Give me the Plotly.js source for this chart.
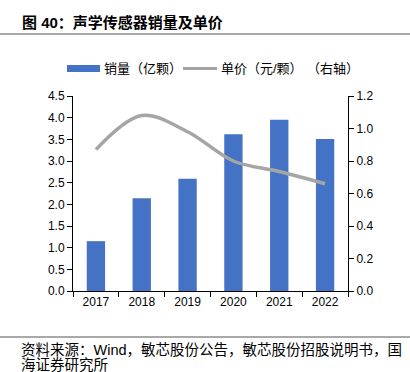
<!DOCTYPE html>
<html><head><meta charset="utf-8">
<script src="https://cdn.plot.ly/plotly-3.0.1.min.js"></script>
<style>body{margin:0;background:#fff}#c{width:410px;height:372px}</style>
</head><body><div id="c"></div>
<script>
const years = ['2017','2018','2019','2020','2021','2022'];
const sales = [1.15, 2.14, 2.59, 3.62, 3.95, 3.51];
const price = [0.87, 1.08, 0.98, 0.80, 0.735, 0.66];
const salesName = '销量（亿颗）';
const priceName = '单价（元/颗）';
const rightAxisNote = '（右轴）';
const titleText = '<b>图 40：声学传感器销量及单价</b>';
const sourceLine1 = '资料来源：Wind，敏芯股份公告，敏芯股份招股说明书，国';
const sourceLine2 = '海证券研究所';
const font = 'Liberation Sans, Arial, Noto Sans CJK SC, sans-serif';
const barColor = '#4472C4', lineColor = '#A5A5A5';

// pixel -> paper helpers (plot area: x 73..348, y 96..291)
const L = 73, W = 275, B = 291, H = 195;
const px = v => (v - L) / W;
const py = v => (B - v) / H;

const traces = [
  {type:'bar', x:years, y:sales, name:salesName, marker:{color:barColor}, width:0.4, yaxis:'y'},
  {type:'scatter', mode:'lines', x:years, y:price, name:priceName, yaxis:'y2',
   line:{color:lineColor, width:3.5, shape:'spline', smoothing:1}}
];
const layout = {
  width:410, height:372, margin:{l:73, r:62, t:96, b:81},
  paper_bgcolor:'#fff', plot_bgcolor:'#fff',
  font:{family:font, size:12, color:'#000'},
  showlegend:false,
  xaxis:{type:'category', showline:true, linecolor:'#000', linewidth:1, ticks:'outside', ticklen:5,
         tickson:'boundaries', tickcolor:'#000', showgrid:false, tickfont:{size:12}},
  yaxis:{range:[0,4.5], dtick:0.5, tickformat:'.1f', showline:true, linecolor:'#000', ticks:'outside',
         ticklen:5, tickcolor:'#000', showgrid:false, zeroline:false, tickfont:{size:12}},
  yaxis2:{range:[0,1.2], dtick:0.2, tickformat:'.1f', overlaying:'y', side:'right', showline:true,
          linecolor:'#000', ticks:'outside', ticklen:5, tickcolor:'#000', showgrid:false, zeroline:false,
          tickfont:{size:12}},
  shapes:[
    {type:'line', xref:'paper', yref:'paper', x0:px(0), x1:px(410), y0:py(34), y1:py(34), line:{color:'#555', width:1.2}},
    {type:'line', xref:'paper', yref:'paper', x0:px(0), x1:px(410), y0:py(337), y1:py(337), line:{color:'#555', width:1.2}},
    {type:'rect', xref:'paper', yref:'paper', x0:px(67), x1:px(100), y0:py(72), y1:py(65), fillcolor:barColor, line:{width:0}},
    {type:'line', xref:'paper', yref:'paper', x0:px(183), x1:px(217), y0:py(68.5), y1:py(68.5), line:{color:lineColor, width:3}}
  ],
  annotations:[
    {xref:'paper', yref:'paper', x:px(20), y:py(22), xanchor:'left', yanchor:'middle',
     text:titleText, showarrow:false, font:{size:15, family:font, color:'#000'}},
    {xref:'paper', yref:'paper', x:px(102), y:py(68.5), xanchor:'left', yanchor:'middle',
     text:salesName, showarrow:false, font:{size:13}},
    {xref:'paper', yref:'paper', x:px(219), y:py(68.5), xanchor:'left', yanchor:'middle',
     text:priceName, showarrow:false, font:{size:13}},
    {xref:'paper', yref:'paper', x:px(305), y:py(68.5), xanchor:'left', yanchor:'middle',
     text:rightAxisNote, showarrow:false, font:{size:13}},
    {xref:'paper', yref:'paper', x:px(19), y:py(350), xanchor:'left', yanchor:'middle',
     text:sourceLine1, showarrow:false, font:{size:14.5}},
    {xref:'paper', yref:'paper', x:px(19), y:py(365), xanchor:'left', yanchor:'middle',
     text:sourceLine2, showarrow:false, font:{size:14.5}}
  ]
};
Plotly.newPlot('c', traces, layout, {displayModeBar:false, staticPlot:true});
</script>
</body></html>
